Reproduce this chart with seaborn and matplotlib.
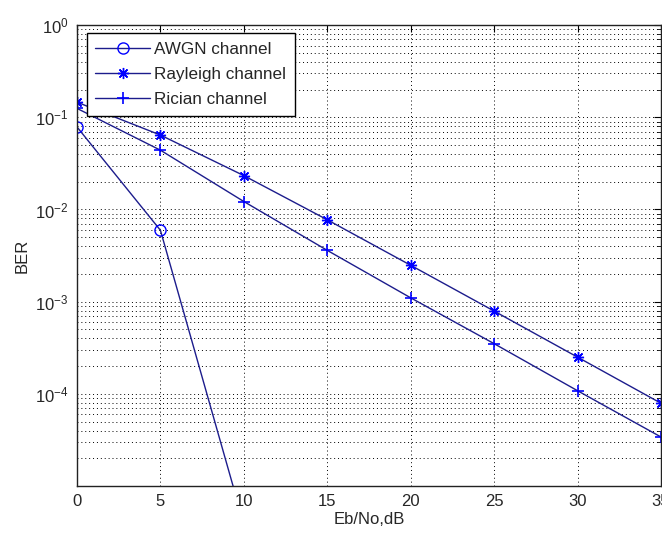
import numpy as np
import pandas as pd
import matplotlib
matplotlib.use("Agg")
import matplotlib.pyplot as plt
import matplotlib.ticker as mticker
import seaborn as sns

# values
snr_awgn = [0, 5, 10]
ber_awgn = [0.0786, 0.00595, 3.87e-6]

snr_fading = [0, 5, 10, 15, 20, 25, 30, 35]
ber_rayleigh = [0.146, 0.0642, 0.0233, 0.00773, 0.00248, 0.00079, 0.00025, 7.9e-5]
ber_rician = [0.125, 0.044, 0.0122, 0.0036, 0.00110, 0.00035, 0.000108, 3.4e-5]

ytick_vals = [1e0, 1e-1, 1e-2, 1e-3, 1e-4]
ytick_labels = [r"$10^{0}$", r"$10^{-1}$", r"$10^{-2}$", r"$10^{-3}$", r"$10^{-4}$"]

df_awgn = pd.DataFrame({"snr": snr_awgn, "ber": ber_awgn})
df_fade = pd.DataFrame({"snr": snr_fading, "rayleigh": ber_rayleigh, "rician": ber_rician})

sns.set_style("white")
plt.rcParams["font.family"] = ["Liberation Sans", "DejaVu Sans"]
plt.rcParams["mathtext.fontset"] = "custom"
plt.rcParams["mathtext.rm"] = "Liberation Sans"
plt.rcParams["mathtext.it"] = "Liberation Sans"

line_col = "#1c1c8c"
mark_col = "#0000ff"
fs = 12

fig = plt.figure(figsize=(6.62, 5.35), dpi=100)
ax = fig.add_axes([0.1163, 0.0916, 0.8822, 0.8614])

sns.lineplot(data=df_awgn, x="snr", y="ber", ax=ax, color=line_col, linewidth=1.0,
             marker="o", markersize=8, markerfacecolor="none", markeredgecolor=mark_col,
             markeredgewidth=1.0, label="AWGN channel")
sns.lineplot(data=df_fade, x="snr", y="rayleigh", ax=ax, color=line_col, linewidth=1.0,
             marker=(8, 2, 0), markersize=8, markeredgecolor=mark_col, markeredgewidth=1.0,
             label="Rayleigh channel")
sns.lineplot(data=df_fade, x="snr", y="rician", ax=ax, color=line_col, linewidth=1.0,
             marker="+", markersize=9, markeredgecolor=mark_col, markeredgewidth=1.2,
             label="Rician channel")

ax.set_yscale("log")
ax.set_xlim(0, 35)
ax.set_ylim(1e-5, 1e0)
ax.set_xticks([0, 5, 10, 15, 20, 25, 30, 35])
ax.set_yticks(ytick_vals)
ax.set_yticklabels(ytick_labels)
ax.yaxis.set_minor_locator(mticker.LogLocator(base=10, subs=np.arange(2, 10), numticks=20))
ax.yaxis.set_minor_formatter(mticker.NullFormatter())

ax.grid(True, which="major", axis="both", color="k", linestyle=(0, (1, 3)), linewidth=0.7)
ax.grid(True, which="minor", axis="y", color="k", linestyle=(0, (1, 3)), linewidth=0.7)

ax.tick_params(which="both", direction="in", top=True, right=True, labelsize=fs,
               color="k", pad=6)
ax.tick_params(which="major", length=5)
ax.tick_params(which="minor", length=3)
for s in ax.spines.values():
    s.set_color("#222222")
    s.set_linewidth(1.0)

ax.set_xlabel("Eb/No,dB", fontsize=fs, labelpad=2)
ax.set_ylabel("BER", fontsize=fs, labelpad=4)

leg = ax.legend(loc="upper left", bbox_to_anchor=(0.017, 0.983), fontsize=12.3,
                frameon=True, fancybox=False, handlelength=3.2, borderpad=0.5,
                labelspacing=0.6, handletextpad=0.25, borderaxespad=0.0)
leg.get_frame().set_edgecolor("k")
leg.get_frame().set_linewidth(1.0)
leg.get_frame().set_alpha(1.0)

fig.savefig("out.png", dpi=100, facecolor="white")
